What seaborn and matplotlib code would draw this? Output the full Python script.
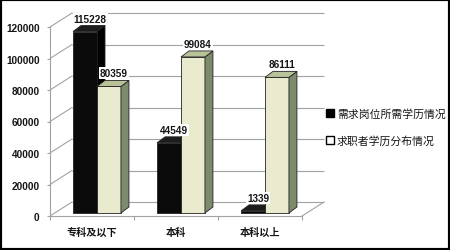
import matplotlib
matplotlib.use('Agg')
import matplotlib.pyplot as plt
import seaborn as sns
import pandas as pd
from matplotlib.patches import Polygon, Rectangle
from matplotlib.transforms import ScaledTranslation, IdentityTransform

categories = ['专科及以下', '本科', '本科以上']
series_names = ['需求岗位所需学历情况', '求职者学历分布情况']
demand = [115228, 44549, 1339]
seekers = [80359, 99084, 86111]
yticks = [0, 20000, 40000, 60000, 80000, 100000, 120000]

df = pd.DataFrame({
    '学历': categories * 2,
    '人数': demand + seekers,
    '系列': [series_names[0]] * 3 + [series_names[1]] * 3,
})

sns.set_theme(style='white')
plt.rcParams['font.family'] = ['Liberation Sans', 'Noto Sans CJK SC']

DPI = 100
fig = plt.figure(figsize=(4.5, 2.51), dpi=DPI)
fig.patch.set_facecolor('white')
ax = fig.add_axes([50 / 450, 34 / 251, 252 / 450, 189 / 251])
ax.set_facecolor('none')

front_cols = ['#0a0a0a', '#efefc9']
top_cols = ['#1c1c1c', '#b8c39a']
side_cols = ['#000000', '#7b8b6c']
grid_col = '#9ea3a3'
txt_col = '#151515'

sns.barplot(data=df, x='学历', y='人数', hue='系列', palette=front_cols,
            width=0.57, ax=ax, edgecolor='#222222', linewidth=0.6,
            zorder=2, errorbar=None)
ax.set_xlim(-0.5, 2.5)
ax.set_ylim(0, 120000)

# wall depth and bar depth in pixels
wdx, wdy = 22, 14
bx, by = 5, 3
ddx, ddy = 8, 6

wall_off = ax.transData + ScaledTranslation(wdx / DPI, wdy / DPI, fig.dpi_scale_trans)
ax.hlines(yticks, -0.5, 2.5, transform=wall_off, colors=grid_col, lw=0.8,
          clip_on=False, zorder=0.5)
for v in yticks:
    ax.annotate('', xy=(-0.5, v), xytext=(wdx, wdy), textcoords='offset pixels',
                arrowprops=dict(arrowstyle='-', color=grid_col, lw=0.8,
                                shrinkA=0, shrinkB=0), annotation_clip=False, zorder=0.5)
ax.annotate('', xy=(2.5, 0), xytext=(wdx, wdy), textcoords='offset pixels',
            arrowprops=dict(arrowstyle='-', color=grid_col, lw=0.8,
                            shrinkA=0, shrinkB=0), annotation_clip=False, zorder=0.5)

bar_off = ax.transData + ScaledTranslation(bx / DPI, by / DPI, fig.dpi_scale_trans)
for si, (cont, vals) in enumerate(zip(ax.containers, [demand, seekers])):
    zf = 1.5 if si == 0 else 2.5
    for rect, v in zip(cont, vals):
        rect.set_transform(bar_off)
        x, w, h = rect.get_x(), rect.get_width(), rect.get_height()
        (xl, yb), (xr, yt) = ax.transData.transform([(x, 0), (x + w, h)])
        xl += bx; xr += bx; yb += by; yt += by
        top = Polygon([(xl, yt), (xr, yt), (xr + ddx, yt + ddy), (xl + ddx, yt + ddy)],
                      closed=True, transform=IdentityTransform(), fc=top_cols[si],
                      ec='#222222', lw=0.6, zorder=zf, clip_on=False)
        side = Polygon([(xr, yb), (xr, yt), (xr + ddx, yt + ddy), (xr + ddx, yb + ddy)],
                       closed=True, transform=IdentityTransform(), fc=side_cols[si],
                       ec='#222222', lw=0.6, zorder=zf, clip_on=False)
        ax.add_artist(side)
        ax.add_artist(top)
        ax.annotate(str(v), xy=(x + w / 2, h), xytext=(10, 16),
                    textcoords='offset pixels', ha='center', va='center',
                    fontsize=7.2, fontweight='bold', color=txt_col, zorder=4,
                    bbox=dict(boxstyle='square,pad=0.1', fc='white', ec='none'),
                    annotation_clip=False)

for side in ['top', 'right']:
    ax.spines[side].set_visible(False)
for side in ['left', 'bottom']:
    ax.spines[side].set_color(grid_col)
    ax.spines[side].set_linewidth(0.8)

ax.set_yticks(yticks)
ax.set_yticklabels([str(v) for v in yticks], fontweight='bold')
ax.set_xticks(range(len(categories)))
ax.set_xticklabels(categories, fontweight='bold')
ax.set_xticks([-0.5, 0.5, 1.5, 2.5], minor=True)
ax.tick_params(axis='y', left=True, length=2.5, width=0.8, color=grid_col,
               pad=5, labelsize=7.2, labelcolor=txt_col)
ax.tick_params(axis='x', which='major', bottom=True, length=0, pad=8,
               labelsize=7.3, labelcolor=txt_col)
ax.tick_params(axis='x', which='minor', bottom=True, length=3, width=0.8,
               color=grid_col)
ax.set_xlabel('')
ax.set_ylabel('')

handles, labels = ax.get_legend_handles_labels()
leg = ax.legend(handles, labels, loc='upper left',
                bbox_to_anchor=(326 / 450, 1 - 109 / 251),
                bbox_transform=fig.transFigure, frameon=False,
                handlelength=0.7, handleheight=0.7, handletextpad=0.3,
                labelspacing=1.5, borderpad=0, borderaxespad=0,
                prop={'size': 7.8, 'weight': 'medium'})
for t in leg.get_texts():
    t.set_color(txt_col)
for hnd, fc in zip(leg.legend_handles, ['#000000', '#ffffff']):
    hnd.set_facecolor(fc)
    hnd.set_edgecolor('#000000')
    hnd.set_linewidth(1.0)

fig.add_artist(Rectangle((0, 0), 1, 1, transform=fig.transFigure, fill=False,
                         ec='black', lw=3))

fig.savefig('out.png', dpi=DPI, facecolor='white')
